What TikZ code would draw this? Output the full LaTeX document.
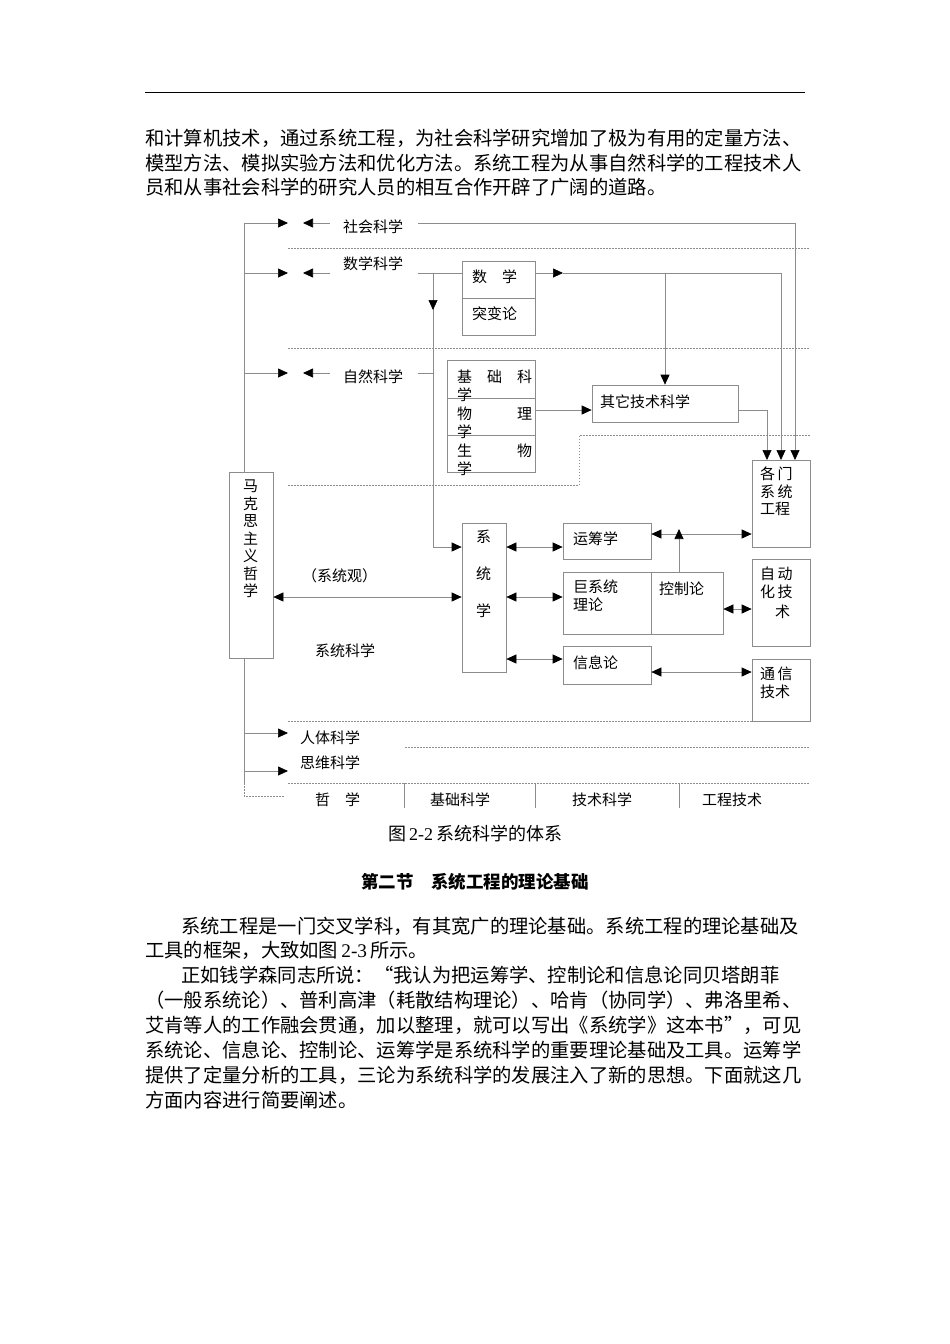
\documentclass[tikz,border=0pt]{standalone}
\usepackage{fontspec}
\setmainfont{Liberation Serif}
\newfontfamily\cjk{Noto Sans CJK SC}
\usetikzlibrary{arrows.meta}
\begin{document}
\begin{tikzpicture}[x=1pt,y=-1pt,
 ln/.style={draw=black!45,line width=0.7pt},
 arr/.style={ln,-{Triangle[length=10pt,width=9pt,color=black]}},
 darr/.style={ln,{Triangle[length=10pt,width=9pt,color=black]}-{Triangle[length=10pt,width=9pt,color=black]}},
 dot/.style={draw=black!45,line width=0.6pt,dash pattern=on 1.5pt off 1.5pt},
 bx/.style={draw=black!45,line width=0.7pt,inner sep=0,minimum width=#1},
 lab/.style={font=\cjk\fontsize{15}{17.5}\selectfont,inner sep=0,anchor=west},
 body/.style={font=\cjk\fontsize{19.3}{22}\selectfont,inner sep=0,anchor=west}]
\useasboundingbox[fill=white] (0,0) rectangle (950,1344);
\draw[black,line width=1pt] (145,92) -- (805,92);
\node[body] (t1) at (145,138) {和计算机技术，通过系统工程，为社会科学研究增加了极为有用的定量方法、};
\node[body] (t2) at (145,163) {模型方法、模拟实验方法和优化方法。系统工程为从事自然科学的工程技术人};
\node[body] (t3) at (145,187) {员和从事社会科学的研究人员的相互合作开辟了广阔的道路。};
% boxes
\node[bx=73pt,minimum height=37pt] (sx) at (498.5,279.5) {};
\node[bx=73pt,minimum height=37pt] (tb) at (498.5,316.5) {};
\node[bx=88pt,minimum height=38pt] (jc) at (491,379) {};
\node[bx=88pt,minimum height=37pt] (wl) at (491,416.5) {};
\node[bx=88pt,minimum height=37pt] (sw) at (491,453.5) {};
\node[bx=146pt,minimum height=37pt] (qt) at (665,403.5) {};
\node[bx=58pt,minimum height=87pt] (gm) at (781,503.5) {};
\node[bx=44pt,minimum height=186pt] (mk) at (251,565) {};
\node[bx=44pt,minimum height=149pt] (xt) at (484,597.5) {};
\node[bx=88pt,minimum height=36pt] (yc) at (607,541) {};
\node[bx=88pt,minimum height=62pt] (jx) at (607,603) {};
\node[bx=72pt,minimum height=62pt] (kz) at (687,603) {};
\node[bx=88pt,minimum height=38pt] (xx) at (607,665) {};
\node[bx=58pt,minimum height=87pt] (zd) at (781,602.5) {};
\node[bx=58pt,minimum height=62pt] (tx) at (781,690) {};
% box texts
\node[lab] at (472,277) {数　学};
\node[lab] at (472,314) {突变论};
\node[lab] at (457,377) {基　础　科};
\node[lab] at (457,395) {学};
\node[lab] at (457,414) {物　　　理};
\node[lab] at (457,432) {学};
\node[lab] at (457,451) {生　　　物};
\node[lab] at (457,469) {学};
\node[lab] at (600,402) {其它技术科学};
\node[lab,align=left,anchor=north west] at (760,467) {各\,门\\系\,统\\工程};
\node[lab,align=left,anchor=north west] at (243,480) {马\\克\\思\\主\\义\\哲\\学};
\node[lab,anchor=north west] at (476,530) {系};
\node[lab,anchor=north west] at (476,567) {统};
\node[lab,anchor=north west] at (476,604) {学};
\node[lab] at (573,539) {运筹学};
\node[lab,align=left,anchor=north west] at (573,580) {巨系统\\理论};
\node[lab] at (659,589) {控制论};
\node[lab] at (573,663) {信息论};
\node[lab,align=left,anchor=north west] at (760,567) {自\,动\\化\,技\\[3pt]\quad 术};
\node[lab,align=left,anchor=north west] at (760,667) {通\,信\\技术};
% left spine labels
\node[lab] (shk) at (343,227) {社会科学};
\node[lab] (sxk) at (343,264) {数学科学};
\node[lab] (zrk) at (343,377) {自然科学};
\node[lab] at (302,576) {（系统观）};
\node[lab] at (315,651) {系统科学};
\node[lab] at (300,738) {人体科学};
\node[lab] at (300,763) {思维科学};
\node[lab] at (315,800) {哲　学};
\node[lab] at (430,800) {基础科学};
\node[lab] at (572,800) {技术科学};
\node[lab] at (702,800) {工程技术};
% spine
\draw[ln] (244,223) -- (244,472);
\draw[ln] (244,658) -- (244,783);
\draw[dot] (244,783) -- (244,796) -- (285,796);
\foreach \y in {223,273,373}{
 \draw[arr] (244,\y) -- (288,\y);
 \draw[arr] (330,\y) -- (303,\y);}
\draw[arr] (244,733) -- (288,733);
\draw[arr] (244,771) -- (288,771);
% dotted separators
\draw[dot] (288,248) -- (810,248);
\draw[dot] (288,348) -- (810,348);
\draw[dot] (288,485) -- (579,485) -- (579,435) -- (810,435);
\draw[dot] (288,721) -- (810,721);
\draw[dot] (405,747) -- (810,747);
\draw[dot] (288,783) -- (810,783);
\foreach \x in {404,535,679} \draw[ln] (\x,783) -- (\x,808);
% connectors
\draw[arr] (418,223) -- (795,223) -- (795,460);
\draw[ln] (418,273) -- (sx.west|-0,273);
\draw[ln] (433,273) -- (433,547);
\draw[arr] (433,273) -- (433,310);
\draw[arr] (433,547) -- (xt.west|-0,547);
\draw[ln] (418,373) -- (433,373);
\draw[arr] (sx.east|-0,273) -- (563,273);
\draw[arr] (563,273) -- (781,273) -- (781,460);
\draw[arr] (665,273) -- (qt.north);
\draw[arr] (wl.east|-0,410) -- (qt.west|-0,410);
\draw[arr] (qt.east|-0,410) -- (767,410) -- (767,460);
\draw[darr] (mk.east|-0,597) -- (xt.west|-0,597);
\draw[darr] (xt.east|-0,547) -- (yc.west|-0,547);
\draw[darr] (xt.east|-0,597) -- (jx.west|-0,597);
\draw[darr] (xt.east|-0,659) -- (xx.west|-0,659);
\draw[darr] (yc.east|-0,534) -- (gm.west|-0,534);
\draw[arr] (679,572) -- (679,529);
\draw[darr] (kz.east|-0,609) -- (zd.west|-0,609);
\draw[darr] (xx.east|-0,672) -- (tx.west|-0,672);
% caption and text
\node[font=\fontsize{18}{20}\selectfont,inner sep=0] (cap) at (475,834) {{\cjk 图}\,2-2\,{\cjk 系统科学的体系}};
\node[font=\cjk\bfseries\fontsize{17.5}{20}\selectfont,inner sep=0] (h2) at (475,882) {第二节　系统工程的理论基础};
\node[body] (p1) at (181,926) {系统工程是一门交叉学科，有其宽广的理论基础。系统工程的理论基础及};
\node[body] (p2) at (145,950) {{\cjk 工具的框架，大致如图}\,{\rmfamily 2-3}\,{\cjk 所示。}};
\node[body] (p3) at (181,975) {正如钱学森同志所说：“我认为把运筹学、控制论和信息论同贝塔朗菲};
\node[body] (p4) at (145,1000) {（一般系统论）、普利高津（耗散结构理论）、哈肯（协同学）、弗洛里希、};
\node[body] (p5) at (145,1025) {艾肯等人的工作融会贯通，加以整理，就可以写出《系统学》这本书”，可见};
\node[body] (p6) at (145,1050) {系统论、信息论、控制论、运筹学是系统科学的重要理论基础及工具。运筹学};
\node[body] (p7) at (145,1075) {提供了定量分析的工具，三论为系统科学的发展注入了新的思想。下面就这几};
\node[body] (p8) at (145,1100) {方面内容进行简要阐述。};
\end{tikzpicture}
\end{document}
